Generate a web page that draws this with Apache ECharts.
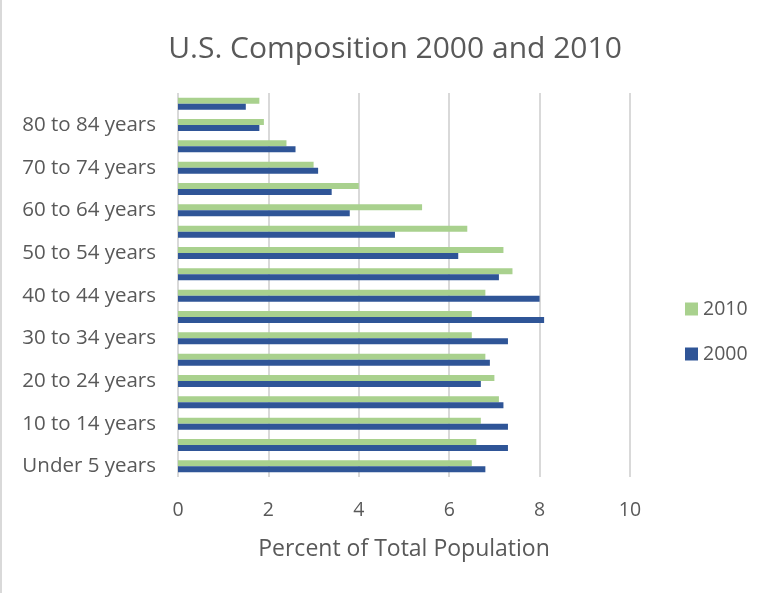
<!DOCTYPE html>
<html lang="en">
<head>
    <meta charset="UTF-8">
    <title>U.S. Composition 2000 and 2010</title>
    <style>
        *{
            margin: 0;
            padding: 0;
        }
        body{
            background: #FFFFFF;
        }
        #main{
            width: 771px;
            height: 593px;
            border-left: 2px solid #D9D9D9;
        }
    </style>
</head>
<body>
<div id="main"></div>
<script src="https://cdn.jsdelivr.net/npm/echarts@6/dist/echarts.min.js"></script>
<script>
    let ageGroups = ['Under 5 years', '5 to 9 years', '10 to 14 years', '15 to 19 years', '20 to 24 years',
        '25 to 29 years', '30 to 34 years', '35 to 39 years', '40 to 44 years', '45 to 49 years',
        '50 to 54 years', '55 to 59 years', '60 to 64 years', '65 to 69 years', '70 to 74 years',
        '75 to 79 years', '80 to 84 years', '85 years and over'];
    let data2000 = [6.8, 7.3, 7.3, 7.2, 6.7, 6.9, 7.3, 8.1, 8.0, 7.1, 6.2, 4.8, 3.8, 3.4, 3.1, 2.6, 1.8, 1.5];
    let data2010 = [6.5, 6.6, 6.7, 7.1, 7.0, 6.8, 6.5, 6.5, 6.8, 7.4, 7.2, 6.4, 5.4, 4.0, 3.0, 2.4, 1.9, 1.8];
    let xTicks = [0, 2, 4, 6, 8, 10];

    let font = 'Open Sans';
    let myChart = echarts.init(document.getElementById('main'));
    myChart.setOption({
        animation: false,
        title: {
            text: 'U.S. Composition 2000 and 2010',
            left: 388,
            top: 29,
            textAlign: 'center',
            textStyle: {
                fontFamily: font,
                fontSize: 30,
                fontWeight: 'normal',
                color: '#595959'
            }
        },
        legend: {
            orient: 'vertical',
            left: 678,
            top: 294,
            icon: 'rect',
            itemWidth: 13,
            itemHeight: 13,
            itemGap: 25,
            data: ['2010', '2000'],
            textStyle: {
                fontFamily: font,
                fontSize: 19.5,
                color: '#595959'
            }
        },
        grid: {
            left: 176,
            right: 143,
            top: 93,
            bottom: 116
        },
        xAxis: {
            type: 'value',
            min: xTicks[0],
            max: xTicks[xTicks.length - 1],
            interval: 2,
            name: 'Percent of Total Population',
            nameLocation: 'middle',
            nameGap: 61,
            nameTextStyle: {
                fontFamily: font,
                fontSize: 23,
                color: '#595959'
            },
            axisLine: {show: false},
            axisTick: {show: false},
            axisLabel: {
                margin: 23,
                fontFamily: font,
                fontSize: 19.5,
                color: '#595959'
            },
            splitLine: {
                lineStyle: {color: '#D9D9D9', width: 2}
            }
        },
        yAxis: {
            type: 'category',
            data: ageGroups,
            axisLine: {show: false},
            axisTick: {show: false},
            axisLabel: {
                interval: 1,
                margin: 22,
                fontFamily: font,
                fontSize: 20.5,
                color: '#595959'
            }
        },
        series: [
            {
                name: '2010',
                type: 'bar',
                data: data2010,
                barWidth: 6,
                barGap: '0%',
                itemStyle: {color: '#A9D18E'}
            },
            {
                name: '2000',
                type: 'bar',
                data: data2000,
                barWidth: 6,
                barGap: '0%',
                itemStyle: {color: '#2F5597'}
            }
        ]
    });
</script>
</body>
</html>
